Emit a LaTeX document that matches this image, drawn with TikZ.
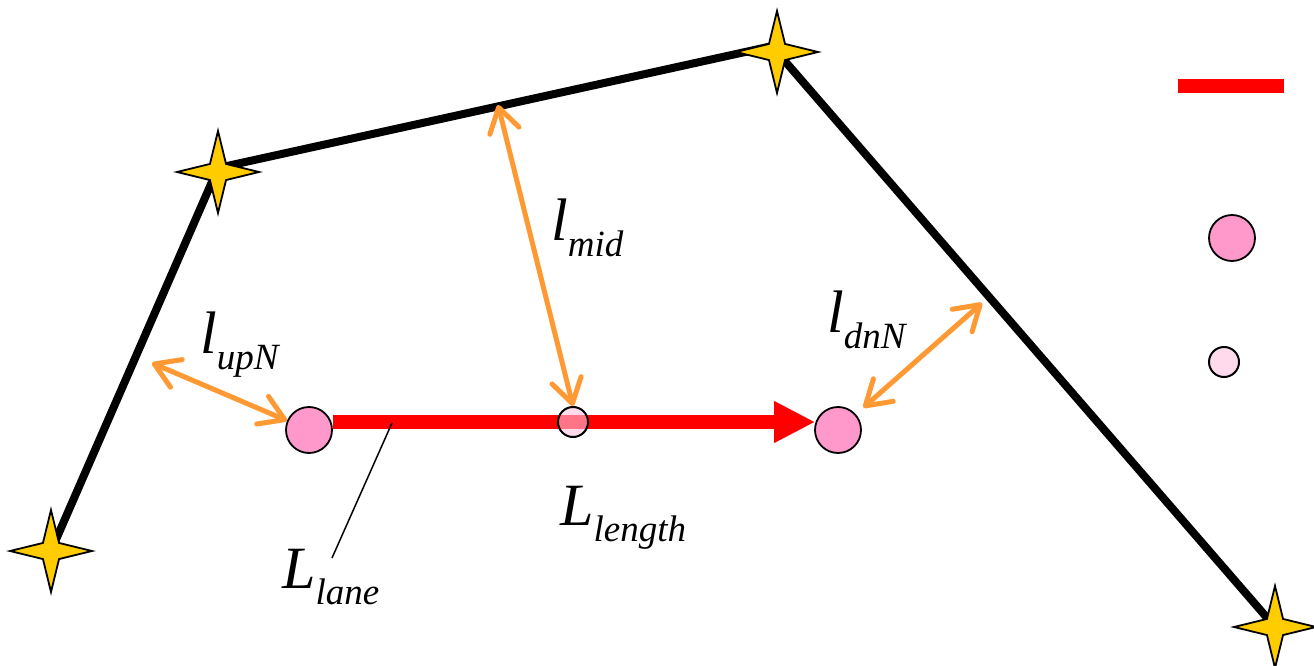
\documentclass[tikz,border=0pt]{standalone}
\usepackage{fontspec}
\setmainfont{Liberation Serif}
\usetikzlibrary{arrows.meta,shapes.geometric}
\definecolor{roadred}{RGB}{255,0,0}
\definecolor{nodepink}{RGB}{255,153,204}
\definecolor{stargold}{RGB}{255,204,0}
\definecolor{distorange}{RGB}{255,153,51}
\newcommand{\mylab}[2]{{\fontsize{60}{62}\selectfont\itshape #1}\raisebox{-16pt}{\fontsize{37}{40}\selectfont\itshape #2}}
\pgfdeclarelayer{background}
\pgfsetlayers{background,main}
\begin{document}
\begin{tikzpicture}[x=1pt,y=-1pt,
  starnode/.style={star, star points=4, star point ratio=3.6, minimum size=82pt, inner sep=0pt, draw=black, line width=1.8pt, fill=stargold},
  road/.style={line width=8pt, black, line cap=round, line join=round},
  bignode/.style={circle, draw=black, line width=1.8pt, fill=nodepink, minimum size=46pt, inner sep=0pt},
  smallnode/.style={circle, draw=black, line width=2pt, fill=nodepink!60, fill opacity=0.6, draw opacity=1, minimum size=30pt, inner sep=0pt},
  dist/.style={distorange, line width=5pt, line cap=round, {Straight Barb[length=24pt,width=30pt,round]}-{Straight Barb[length=24pt,width=30pt,round]}},
  lab/.style={anchor=base west, inner sep=0pt}
]
\useasboundingbox (0,0) rectangle (1314,666);
\node[starnode] (s1) at (51,551) {};
\node[starnode] (s2) at (218,172) {};
\node[starnode] (s3) at (777,52) {};
\node[starnode] (s4) at (1275,627) {};
\begin{pgfonlayer}{background}
\draw[road] (s1.center) -- ([yshift=4pt]s2.center) -- ([yshift=7pt]s3.center);
\draw[road] (s3.center) -- (s4.center);
\end{pgfonlayer}
\node[bignode] (c1) at (309,430) {};
\node[bignode] (c2) at (838,430) {};
\draw[roadred, line width=14pt, -{Triangle[length=40pt,width=42pt,line width=0.01pt]}] ([yshift=8pt]c1.east) -- ([yshift=8pt]c2.west);
\node[smallnode] (m) at (573,422) {};
\coordinate (u1) at (152,363);
\draw[dist] (u1) -- (c1);
\coordinate (mt) at (498,105);
\draw[dist] (mt) -- (m.north);
\coordinate (dn) at (982,303);
\draw[dist, shorten <=10pt] (c2) -- (dn);
\coordinate (ld1) at (392,423);
\coordinate (ld2) at (332,558);
\draw[black, line width=1.5pt] (ld1) -- (ld2);
\node[lab] (lup) at (200,353) {\mylab{l}{upN}};
\node[lab] (lmid) at (551,240) {\mylab{l}{mid}};
\node[lab] (ldn) at (827,332) {\mylab{l}{dnN}};
\node[lab] (llen) at (560,525) {\mylab{L}{length}};
\node[lab] (llane) at (282,588) {\mylab{L}{lane}};
\node[fill=roadred, minimum width=106pt, minimum height=14pt, inner sep=0pt] (legline) at (1231,86) {};
\node[bignode] (legbig) at (1232,238) {};
\node[smallnode] (legsmall) at (1224,362) {};
\end{tikzpicture}
\end{document}
